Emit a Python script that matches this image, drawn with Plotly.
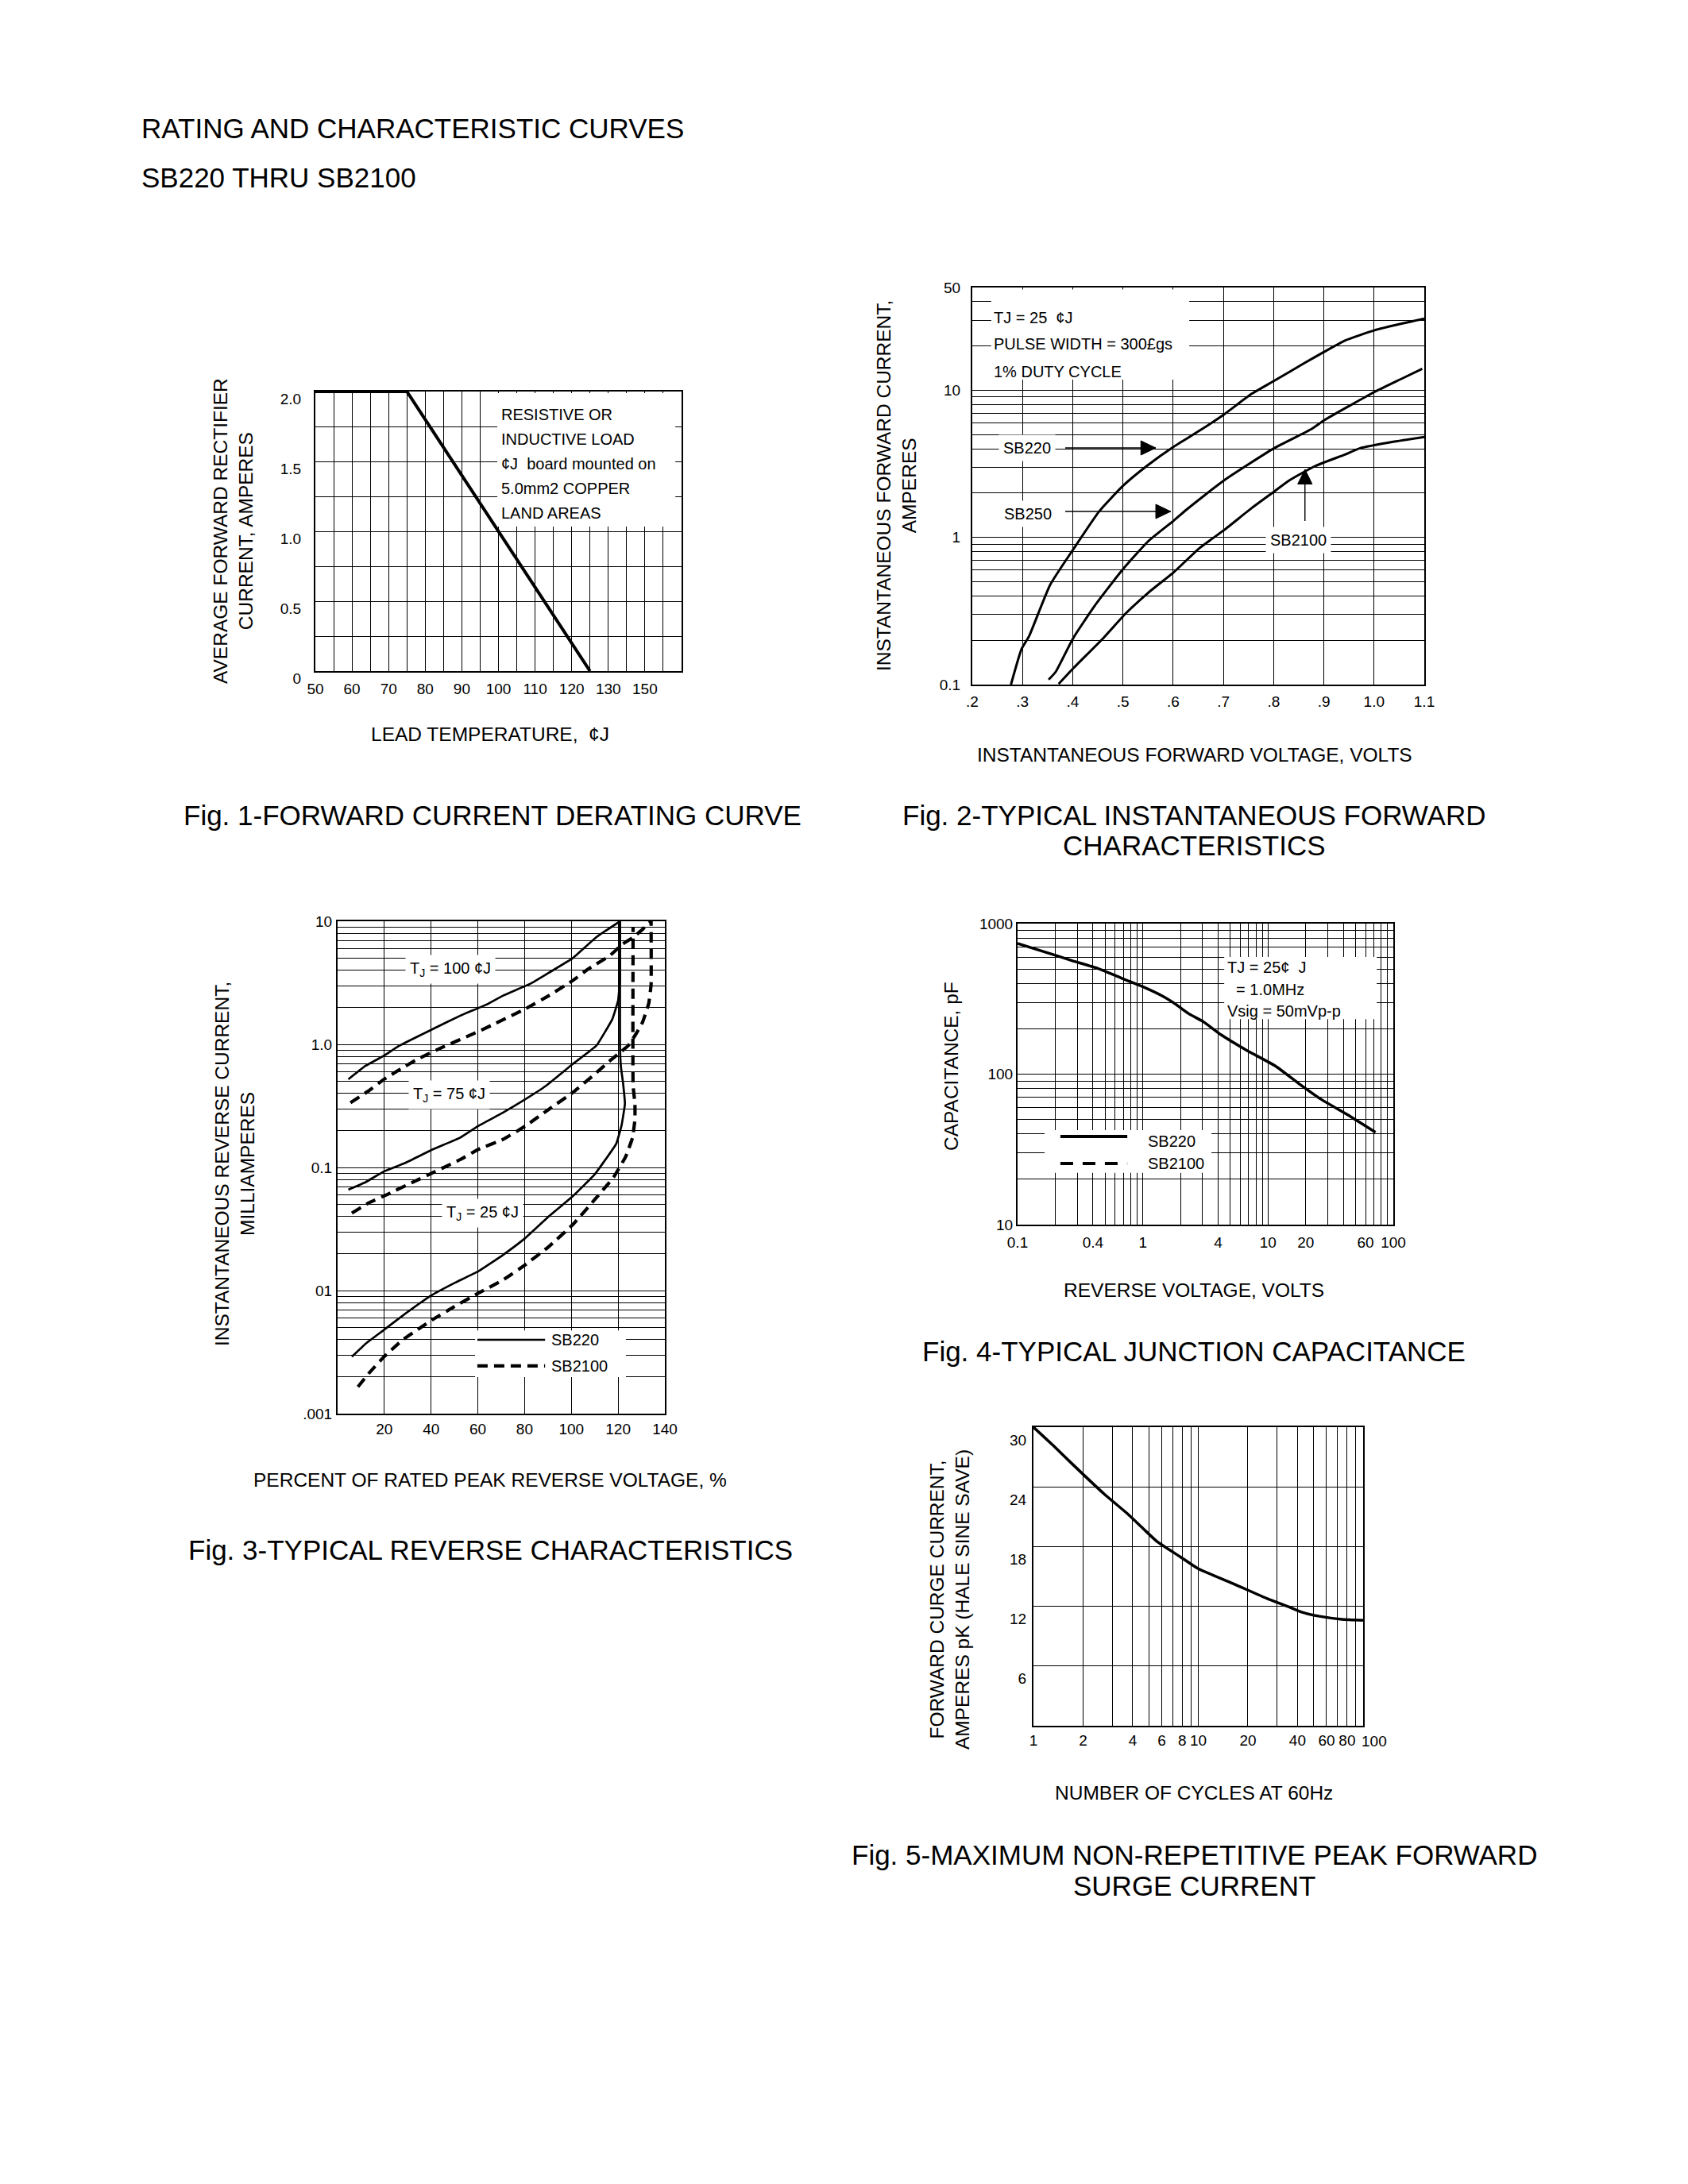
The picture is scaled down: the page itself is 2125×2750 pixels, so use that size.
import plotly.graph_objects as go

W, H = 2125, 2750
FONT = "Liberation Sans, Arial, Helvetica, sans-serif"

# ---------------- Fig. 1 - forward current derating curve
lead_temp = [50, 75, 125]
avg_current = [2.0, 2.0, 0.0]
temp_ticks = [50, 60, 70, 80, 90, 100, 110, 120, 130, 140]
temp_labels = ["50", "60", "70", "80", "90", "100", "110", "120", "130", "150"]
amp_ticks = [0, 0.5, 1.0, 1.5, 2.0]
amp_labels = ["0", "0.5", "1.0", "1.5", "2.0"]
derate_note = ["RESISTIVE OR", "INDUCTIVE LOAD", "¢J  board mounted on", "5.0mm2 COPPER", "LAND AREAS"]

# ---------------- Fig. 2 - forward characteristics (volts, amps)
vf_sb220 = [0.277, 0.298, 0.313, 0.355, 0.401, 0.453, 0.501, 0.55, 0.601, 0.653, 0.701,
            0.757, 0.801, 0.861, 0.901, 0.942, 1.001, 1.053, 1.1]
if_sb220 = [0.1, 0.174, 0.213, 0.476, 0.83, 1.51, 2.26, 3.11, 4.14, 5.33, 6.85,
            9.5, 11.6, 15.3, 18.3, 21.8, 25.6, 28.3, 30.7]
vf_sb250 = [0.352, 0.366, 0.401, 0.446, 0.498, 0.55, 0.601, 0.627, 0.701, 0.801, 0.876,
            0.901, 1.001, 1.053, 1.096]
if_sb250 = [0.108, 0.122, 0.207, 0.352, 0.597, 0.94, 1.30, 1.55, 2.44, 4.04, 5.47,
            6.27, 9.75, 11.9, 14.0]
vf_sb2100 = [0.372, 0.401, 0.461, 0.505, 0.55, 0.601, 0.653, 0.701, 0.757, 0.801, 0.831,
             0.883, 0.942, 0.972, 1.038, 1.1]
if_sb2100 = [0.101, 0.129, 0.207, 0.303, 0.42, 0.58, 0.85, 1.12, 1.59, 2.05, 2.44,
             3.06, 3.66, 4.04, 4.47, 4.82]
volt_ticks = [0.2, 0.3, 0.4, 0.5, 0.6, 0.7, 0.8, 0.9, 1.0, 1.1]
volt_labels = [".2", ".3", ".4", ".5", ".6", ".7", ".8", ".9", "1.0", "1.1"]
fwd_amp_ticks = [0.1, 1, 10, 50]
fwd_amp_labels = ["0.1", "1", "10", "50"]
fwd_note = ["TJ = 25  ¢J", "PULSE WIDTH = 300£gs", "1% DUTY CYCLE"]
fwd_names = ["SB220", "SB250", "SB2100"]

# ---------------- Fig. 3 - reverse characteristics (% of rated voltage, mA)
pct_220_100 = [4.6, 12.0, 19.9, 26.4, 40.7, 52.5, 64.3, 70.8, 82.5, 90.3, 100.5, 110.7, 120.8]
ir_220_100 = [0.52, 0.67, 0.81, 0.975, 1.33, 1.71, 2.13, 2.49, 3.11, 3.81, 5.0, 7.43, 10]
pct_220_75 = [4.6, 12.0, 19.9, 29.0, 40.7, 52.5, 60.1, 70.8, 80.3, 89.1, 100.5, 110.7,
              117.5, 120.0, 120.8, 120.8]
ir_220_75 = [0.066, 0.076, 0.093, 0.109, 0.14, 0.175, 0.217, 0.279, 0.358, 0.46, 0.69, 0.975,
             1.6, 2.27, 3.37, 10]
pct_220_25 = [6.1, 12.0, 19.9, 29.0, 40.4, 49.9, 60.1, 70.8, 80.3, 90.4, 100.6, 110.0,
              119.2, 121.5, 122.9, 122.1, 121.2, 120.8, 120.8]
ir_220_25 = [0.0029, 0.0037, 0.0048, 0.0065, 0.0092, 0.0115, 0.0143, 0.0195, 0.0267, 0.0401,
             0.0584, 0.088, 0.156, 0.221, 0.328, 0.488, 0.656, 0.975, 10]
pct_2100_100 = [5.5, 13.3, 19.9, 26.4, 34.2, 44.7, 57.7, 65.6, 80.3, 90.4, 100.6, 107.3,
                116.4, 122.1, 126.6, 130.5, 134.1]
ir_2100_100 = [0.336, 0.419, 0.521, 0.621, 0.759, 0.945, 1.21, 1.42, 1.94, 2.49, 3.3, 4.1,
               5.25, 6.56, 7.43, 8.6, 10]
pct_2100_75 = [6.1, 13.3, 21.2, 31.6, 40.7, 52.5, 60.1, 70.8, 80.3, 90.4, 100.6, 110.0,
               116.5, 120.9, 124.3, 127.7, 130.5, 133.1, 134.1, 134.1]
ir_2100_75 = [0.0426, 0.0515, 0.0603, 0.075, 0.0905, 0.116, 0.14, 0.169, 0.217, 0.297, 0.406,
              0.573, 0.736, 0.86, 0.975, 1.22, 1.52, 2.15, 3.05, 10]
pct_2100_25 = [8.7, 13.3, 19.9, 27.7, 40.4, 49.9, 60.1, 70.8, 80.3, 90.4, 100.6, 110.0,
               118.0, 123.2, 126.1, 127.2, 127.2, 126.4, 126.4]
ir_2100_25 = [0.00165, 0.00212, 0.0029, 0.00396, 0.00577, 0.0074, 0.0095, 0.0122, 0.0162,
              0.0228, 0.0343, 0.0548, 0.083, 0.122, 0.173, 0.244, 0.328, 0.464, 9.0]
pct_ticks = [20, 40, 60, 80, 100, 120, 140]
pct_labels = ["20", "40", "60", "80", "100", "120", "140"]
ir_ticks = [0.001, 0.01, 0.1, 1, 10]
ir_labels = [".001", "01", "0.1", "1.0", "10"]
temp_notes = ["T<sub>J</sub> = 100 ¢J", "T<sub>J</sub> = 75 ¢J", "T<sub>J</sub> = 25 ¢J"]

# ---------------- Fig. 4 - junction capacitance (volts, pF)
vr_cap = [0.1, 0.159, 0.272, 0.437, 0.704, 1.006, 1.438, 1.823, 2.31, 3.02, 4.20, 6.75,
          11.5, 17.5, 26.5, 45.3, 72.1]
cap_pf = [738, 655, 568, 504, 428, 380, 330, 292, 253, 224, 183, 144, 113, 86.9, 68.1, 52.4, 41.1]
vr_ticks = [0.1, 0.4, 1, 4, 10, 20, 60, 100]
vr_labels = ["0.1", "0.4", "1", "4", "10", "20", "60", "100"]
cap_ticks = [10, 100, 1000]
cap_labels = ["10", "100", "1000"]
cap_note = ["TJ = 25¢  J", "\u00a0\u00a0= 1.0MHz", "Vsig = 50mVp-p"]

# ---------------- Fig. 5 - surge current (cycles, amps)
cycles = [1.0, 1.31, 1.745, 2.68, 3.72, 4.70, 5.63, 7.73, 9.95, 16.7, 26.0, 36.0, 42.7,
          54.3, 74.2, 100]
surge_amps = [30.0, 28.2, 26.2, 23.3, 21.3, 19.7, 18.5, 17.0, 15.8, 14.2, 12.8, 11.9, 11.4,
              11.0, 10.7, 10.6]
cycle_ticks = [1, 2, 4, 6, 8, 10, 20, 40, 60, 80, 100]
cycle_labels = ["1", "2", "4", "6", "8", "10", "20", "40", "60", "80", "100"]
surge_ticks = [6, 12, 18, 24, 30]
surge_labels = ["6", "12", "18", "24", "30"]

legend_names = ["SB220", "SB2100"]

# plot areas in page pixels: left, top, right, bottom
boxes = {1: (397, 493, 858, 845), 2: (1224, 362, 1793, 862), 3: (425, 1160, 837, 1780),
         4: (1281, 1163, 1754, 1542), 5: (1301, 1797, 1716, 2173)}


def log_grid(e0, e1, last=None):
    vals = [round(m * 10 ** e, 6) for e in range(e0, e1) for m in range(1, 10)]
    vals.append(round(10 ** e1, 6))
    if last is not None:
        vals = [v for v in vals if v <= last]
    return vals


def tick_spec(grid, at, labels):
    lab = {round(a, 6): t for a, t in zip(at, labels)}
    return dict(tickmode="array", tickvals=grid, ticktext=[lab.get(round(v, 6), "") for v in grid])


def axis(i, horiz, **kw):
    l, t, r, b = boxes[i]
    base = dict(showline=True, mirror=True, linecolor="black", linewidth=2, showgrid=True,
                gridcolor="black", gridwidth=1.3, zeroline=False, ticks="", fixedrange=True,
                automargin=False, tickfont=dict(size=19, color="black", family=FONT))
    if horiz:
        base.update(domain=[l / W, r / W], anchor="y" if i == 1 else f"y{i}",
                    ticklabelstandoff=0, tickangle=0)
    else:
        base.update(domain=[1 - b / H, 1 - t / H], anchor="x" if i == 1 else f"x{i}")
    base.update(kw)
    return base


fig = go.Figure()


def curve(i, x, y, width=3, dash=None, smooth=0.5):
    line = dict(color="black", width=width, shape="spline", smoothing=smooth)
    if dash:
        line["dash"] = dash
    fig.add_trace(go.Scatter(x=x, y=y, mode="lines", line=line, showlegend=False, hoverinfo="skip",
                             xaxis="x" if i == 1 else f"x{i}", yaxis="y" if i == 1 else f"y{i}"))


curve(1, lead_temp, avg_current, width=4, smooth=0)
curve(2, vf_sb220, if_sb220)
curve(2, vf_sb250, if_sb250)
curve(2, vf_sb2100, if_sb2100)
for x, y in [(pct_220_100, ir_220_100), (pct_220_75, ir_220_75), (pct_220_25, ir_220_25)]:
    curve(3, x, y, width=2.7, smooth=0.3)
for x, y in [(pct_2100_100, ir_2100_100), (pct_2100_75, ir_2100_75), (pct_2100_25, ir_2100_25)]:
    curve(3, x, y, width=4.2, dash="13px,8px", smooth=0.3)
curve(4, vr_cap, cap_pf, width=3.5)
curve(5, cycles, surge_amps, width=3.5)

layout = dict(
    width=W, height=H, margin=dict(l=0, r=0, t=0, b=0, autoexpand=False),
    paper_bgcolor="white", plot_bgcolor="white", showlegend=False,
    font=dict(family=FONT, color="black"),
    xaxis=axis(1, True, range=[50, 150], ticklabelstandoff=4,
               **tick_spec(list(range(50, 151, 5)), temp_ticks, temp_labels)),
    yaxis=axis(1, False, range=[0, 2], ticklabelstandoff=12, ticklabelshift=9,
               **tick_spec([i * 0.25 for i in range(9)], amp_ticks, amp_labels)),
    xaxis2=axis(2, True, range=[0.2, 1.1], ticklabelstandoff=3,
                **tick_spec(volt_ticks, volt_ticks, volt_labels)),
    yaxis2=axis(2, False, type="log", range=[-1, 1.69897], ticklabelstandoff=9,
                **tick_spec(log_grid(-1, 1, last=50) + [20, 30, 40, 50], fwd_amp_ticks, fwd_amp_labels)),
    xaxis3=axis(3, True, range=[0, 140], ticklabelstandoff=1,
                **tick_spec(list(range(0, 141, 20)), pct_ticks, pct_labels)),
    yaxis3=axis(3, False, type="log", range=[-3, 1], ticklabelstandoff=1,
                **tick_spec(log_grid(-3, 1), ir_ticks, ir_labels)),
    xaxis4=axis(4, True, type="log", range=[-1, 2], ticklabelstandoff=4,
                **tick_spec(log_grid(-1, 2), vr_ticks, vr_labels)),
    yaxis4=axis(4, False, type="log", range=[1, 3], ticklabelstandoff=0,
                **tick_spec(log_grid(1, 3), cap_ticks, cap_labels)),
    # the last cycle label sits past the axis end in the original, so it is drawn separately below
    xaxis5=axis(5, True, type="log", range=[0, 2],
                **tick_spec(log_grid(0, 2), cycle_ticks[:-1], cycle_labels[:-1])),
    yaxis5=axis(5, False, range=[0, 30], ticklabelstandoff=3, ticklabelshift=16,
                **tick_spec(list(range(0, 31, 6)), surge_ticks, surge_labels)),
)
fig.update_layout(**layout)


def ref(i):
    return ("x domain", "y domain") if i == 1 else (f"x{i} domain", f"y{i} domain")


def white_box(i, x0, x1, y0, y1):
    xr, yr = ref(i)
    fig.add_shape(type="rect", xref=xr, yref=yr, x0=x0, x1=x1, y0=y0, y1=y1,
                  fillcolor="white", line_width=0, layer="above")


def note(i, x, y, text, size=20, xanchor="left", bg=None):
    xr, yr = ref(i)
    fig.add_annotation(xref=xr, yref=yr, x=x, y=y, text=text, showarrow=False, xanchor=xanchor,
                       yanchor="middle", font=dict(size=size, color="black", family=FONT),
                       bgcolor=bg, borderpad=5 if bg else 0)


def sample(i, x0, x1, y, width, dash=None):
    xr, yr = ref(i)
    fig.add_shape(type="line", xref=xr, yref=yr, x0=x0, x1=x1, y0=y, y1=y,
                  line=dict(color="black", width=width, dash=dash or "solid"), layer="above")


def pointer(i, x0, y0, x1, y1, hx, hy):
    # line from tail to tip plus a filled triangular head (head size in domain units)
    xr, yr = ref(i)
    fig.add_shape(type="line", xref=xr, yref=yr, x0=x0, y0=y0, x1=x1, y1=y1,
                  line=dict(color="black", width=1.4), layer="above")
    if y0 == y1:
        path = f"M{x1},{y1} L{x1 - hx},{y1 + hy} L{x1 - hx},{y1 - hy} Z"
    else:
        path = f"M{x1},{y1} L{x1 - hx},{y1 - hy} L{x1 + hx},{y1 - hy} Z"
    fig.add_shape(type="path", xref=xr, yref=yr, path=path, fillcolor="black",
                  line=dict(color="black", width=1), layer="above")


def page_text(px, py, text, size, xanchor="center", angle=0):
    fig.add_annotation(xref="paper", yref="paper", x=px / W, y=1 - py / H, text=text, showarrow=False,
                       xanchor=xanchor, yanchor="middle", textangle=angle,
                       font=dict(size=size, color="black", family=FONT))


# Fig. 1 notes
white_box(1, 0.497, 0.983, 0.517, 0.994)
for k, line in enumerate(derate_note):
    note(1, 0.505, 0.918 - k * 0.0883, line)

# Fig. 2 notes and pointers
white_box(2, 0.042, 0.48, 0.768, 0.995)
for k, line in enumerate(fwd_note):
    note(2, 0.045, [0.924, 0.858, 0.788][k], line)
note(2, 0.121, 0.596, fwd_names[0], xanchor="center", bg="white")
note(2, 0.123, 0.430, fwd_names[1], xanchor="center", bg="white")
note(2, 0.722, 0.364, fwd_names[2], xanchor="center", bg="white")
pointer(2, 0.2056, 0.596, 0.406, 0.596, 0.033, 0.018)
pointer(2, 0.2056, 0.436, 0.439, 0.436, 0.033, 0.018)
pointer(2, 0.736, 0.412, 0.736, 0.542, 0.016, 0.037)

# Fig. 3 notes and key
for (x, y), t in zip([(0.345, 0.903), (0.342, 0.648), (0.444, 0.408)], temp_notes):
    note(3, x, y, t, xanchor="center", bg="white")
white_box(3, 0.42, 0.881, 0.074, 0.169)
sample(3, 0.427, 0.634, 0.150, 2.7)
sample(3, 0.427, 0.634, 0.097, 4.2, "13px,8px")
note(3, 0.65, 0.150, legend_names[0])
note(3, 0.65, 0.097, legend_names[1])

# Fig. 4 notes and key
white_box(4, 0.55, 0.956, 0.683, 0.889)
for k, line in enumerate(cap_note):
    note(4, 0.556, [0.855, 0.781, 0.710][k], line)
white_box(4, 0.072, 0.516, 0.172, 0.314)
sample(4, 0.114, 0.292, 0.293, 4)
sample(4, 0.114, 0.292, 0.203, 4, "16px,12px")
note(4, 0.345, 0.277, legend_names[0])
note(4, 0.345, 0.203, legend_names[1])

# Fig. 5 end label, just past the right edge as printed
fig.add_annotation(xref="x5 domain", yref="y5 domain", x=1.0, y=0, xshift=14, yshift=-19,
                   text=cycle_labels[-1], showarrow=False, xanchor="center", yanchor="middle",
                   font=dict(size=19, color="black", family=FONT))

# page header, axis titles, captions
page_text(176, 161, "RATING AND CHARACTERISTIC CURVES", 35, xanchor="left")
page_text(176, 224, "SB220 THRU SB2100", 35, xanchor="left")

page_text(293, 669, "AVERAGE FORWARD RECTIFIER<br>CURRENT, AMPERES", 24.5, angle=-90)
page_text(617, 924, "LEAD TEMPERATURE,  ¢J", 24.5)
page_text(620, 1026, "Fig. 1-FORWARD CURRENT DERATING CURVE", 35)

page_text(1128, 612, "INSTANTANEOUS FORWARD CURRENT,<br>AMPERES", 24.5, angle=-90)
page_text(1504, 950, "INSTANTANEOUS FORWARD VOLTAGE, VOLTS", 24.5)
page_text(1503, 1026, "Fig. 2-TYPICAL INSTANTANEOUS FORWARD", 35)
page_text(1503, 1064, "CHARACTERISTICS", 35)

page_text(295, 1466, "INSTANTANEOUS REVERSE CURRENT,<br>MILLIAMPERES", 24.5, angle=-90)
page_text(617, 1864, "PERCENT OF RATED PEAK REVERSE VOLTAGE, %", 24.5)
page_text(617, 1951, "Fig. 3-TYPICAL REVERSE CHARACTERISTICS", 35)

page_text(1197, 1343, "CAPACITANCE, pF", 24.5, angle=-90)
page_text(1503, 1624, "REVERSE VOLTAGE, VOLTS", 24.5)
page_text(1503, 1701, "Fig. 4-TYPICAL JUNCTION CAPACITANCE", 35)

page_text(1195, 2014, "FORWARD CURGE CURRENT,<br>AMPERES pK (HALE SINE SAVE)", 24.5, angle=-90)
page_text(1503, 2257, "NUMBER OF CYCLES AT 60Hz", 24.5)
page_text(1503, 2335, "Fig. 5-MAXIMUM NON-REPETITIVE PEAK FORWARD", 35)
page_text(1503, 2374, "SURGE CURRENT", 35)

# page coordinates above are measured from the window corner, so drop the default body margin
fig.write_html("out.html", config={"displayModeBar": False},
               post_script="document.body.style.margin = '0';")
